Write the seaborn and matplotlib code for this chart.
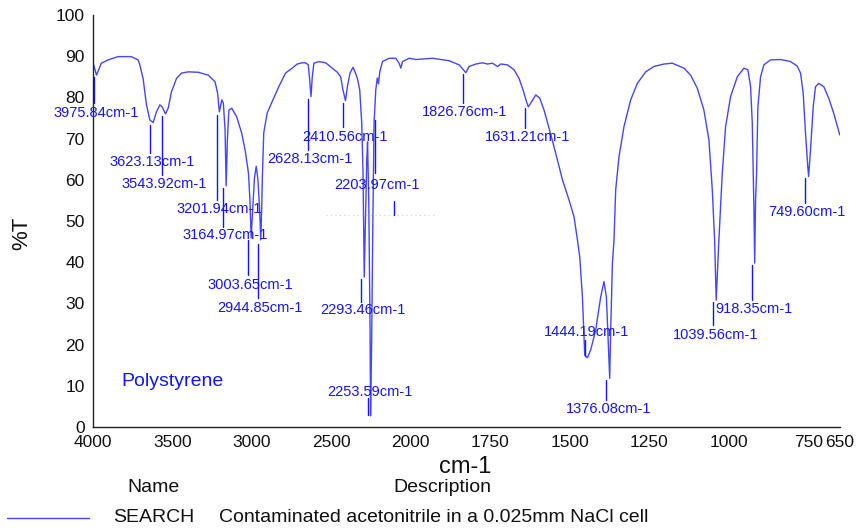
import numpy as np
import pandas as pd
import seaborn as sns
import matplotlib
matplotlib.use("Agg")
import matplotlib.pyplot as plt
from matplotlib.transforms import offset_copy
from matplotlib.lines import Line2D

# IR spectrum: wavenumber (cm-1) and percent transmittance
wavenumber = [
    4000.0, 3977.9, 3947.6, 3905.4, 3842.3, 3760.3, 3716.1, 3705.4, 3684.5, 3663.7,
    3642.3, 3621.5, 3600.6, 3579.2, 3564.7, 3543.9, 3526.8, 3506.0, 3474.5, 3442.9,
    3400.6, 3337.6, 3274.5, 3232.2, 3215.8, 3205.1, 3189.3, 3179.8, 3169.1, 3162.2,
    3154.6, 3145.1, 3127.5, 3095.9, 3064.4, 3042.9, 3022.1, 3012.6, 3005.0, 2995.6,
    2984.3, 2972.9, 2962.2, 2951.4, 2944.5, 2938.8, 2935.0, 2925.6, 2904.1, 2872.6,
    2830.9, 2788.7, 2746.4, 2714.9, 2683.4, 2662.5, 2645.5, 2637.3, 2628.5, 2620.3,
    2610.2, 2578.6, 2536.4, 2494.1, 2462.6, 2441.7, 2427.2, 2411.4, 2399.4, 2383.0,
    2364.1, 2351.5, 2336.4, 2321.8, 2309.2, 2301.0, 2293.4, 2285.8, 2277.6, 2272.6,
    2265.0, 2256.8, 2253.7, 2247.4, 2239.8, 2231.6, 2220.9, 2211.4, 2203.9, 2195.6,
    2178.6, 2137.0, 2094.8, 2074.0, 2063.3, 2052.5, 2010.9,
    1984.3, 1931.8, 1879.6, 1848.2, 1827.1, 1816.8, 1795.7, 1774.6, 1758.9, 1743.2,
    1727.5, 1717.1, 1696.1, 1675.3, 1659.6, 1647.0, 1636.3, 1630.7, 1619.7, 1607.1,
    1594.5, 1581.0, 1565.3, 1544.2, 1523.2, 1502.4, 1486.7, 1476.0, 1468.8, 1460.3,
    1453.1, 1444.6, 1434.3, 1418.6, 1402.8, 1392.5, 1384.9, 1378.6, 1374.5, 1371.4,
    1366.0, 1361.0, 1355.7, 1345.3, 1329.6, 1308.5, 1287.5, 1261.4, 1235.3, 1203.9,
    1177.5, 1156.7, 1141.0, 1119.9, 1098.9, 1078.1, 1062.4, 1051.7, 1044.5, 1039.5,
    1035.1, 1031.0, 1020.3, 1009.9, 994.2, 973.1, 952.4, 939.8, 931.3, 926.0,
    920.9, 918.4, 915.6, 912.4, 908.3, 899.9, 889.5, 868.5, 837.0, 805.7,
    784.6, 774.2, 765.7, 758.5, 751.3, 748.8, 742.8, 734.3, 727.1, 716.7,
    701.0, 685.3, 669.6, 650.7,
]
transmittance = [
    88.5, 85.4, 88.3, 89.1, 89.9, 89.9, 89.1, 87.9, 84.5, 78.2,
    74.5, 73.9, 76.5, 78.2, 77.7, 76.0, 77.4, 81.4, 84.6, 85.9,
    86.2, 86.1, 85.4, 83.8, 81.0, 76.5, 79.4, 78.6, 72.1, 58.5,
    69.7, 76.9, 77.4, 75.3, 71.3, 67.2, 61.7, 55.1, 45.9, 52.7,
    60.4, 63.3, 60.0, 52.7, 45.4, 52.7, 60.0, 71.4, 76.2, 79.0,
    82.6, 85.9, 87.1, 88.1, 88.4, 88.4, 87.9, 84.5, 80.2, 85.0,
    88.3, 88.7, 88.4, 87.1, 86.1, 85.0, 81.8, 79.2, 82.6, 85.9,
    87.3, 86.2, 84.6, 81.8, 73.8, 61.7, 36.4, 50.2, 64.8, 69.2,
    55.1, 23.5, 2.7, 18.7, 47.8, 73.8, 81.8, 84.7, 83.3, 86.2,
    88.7, 89.5, 89.5, 88.3, 87.1, 88.7, 89.5,
    89.2, 89.5, 88.9, 87.9, 86.0, 87.5, 88.1, 88.4, 88.1, 88.3,
    87.5, 88.1, 87.9, 86.7, 84.6, 81.8, 79.0, 77.7, 79.0, 80.6,
    79.8, 76.9, 72.5, 66.4, 60.0, 55.1, 51.0, 45.4, 41.3, 31.6,
    17.5, 16.8, 18.7, 23.5, 31.6, 35.3, 31.6, 19.5, 11.8, 23.5,
    39.7, 45.4, 57.5, 65.6, 72.9, 79.4, 83.4, 86.2, 87.5, 88.1,
    88.3, 87.6, 87.1, 85.4, 82.2, 76.9, 69.7, 57.5, 45.4, 30.8,
    38.1, 45.4, 61.7, 72.9, 80.2, 85.0, 87.1, 86.7, 82.6, 73.8,
    53.5, 39.8, 55.1, 61.7, 77.7, 85.0, 87.9, 89.1, 89.2, 88.7,
    87.6, 85.9, 81.0, 71.3, 63.2, 60.8, 67.2, 77.7, 82.6, 83.4,
    82.6, 79.8, 76.1, 70.9,
]

# Picked peaks (cm-1)
peaks = [3975.84, 3623.13, 3543.92, 3201.94, 3164.97, 3003.65, 2944.85,
         2628.13, 2410.56, 2293.46, 2253.59, 2203.97, 1826.76, 1631.21,
         1444.19, 1376.08, 1039.56, 918.35, 749.60]

# Placement of each peak annotation (in %T): label centre, marker top, marker bottom
label_y = [76.2, 64.3, 59.0, 52.9, 46.6, 34.5, 28.9, 65.0, 70.5, 28.4,
           8.6, 58.7, 76.5, 70.3, 23.1, 4.4, 22.3, 28.6, 52.3]
mark_top = [85.0, 73.3, 75.5, 75.7, 58.0, 45.4, 44.4, 79.5, 78.7, 35.9,
            7.0, 74.5, 85.8, 77.4, 21.1, 11.4, 30.4, 39.3, 60.4]
mark_bot = [78.6, 66.5, 61.2, 55.1, 48.5, 36.9, 31.3, 67.2, 72.7, 30.3,
            2.9, 61.7, 78.6, 72.5, 17.2, 6.6, 24.8, 30.8, 54.3]

x_ticks = [4000, 3500, 3000, 2500, 2000, 1750, 1500, 1250, 1000, 750, 650]
y_ticks = list(range(0, 101, 10))

sample_name = "Polystyrene"
legend_name = "SEARCH"
legend_desc = "Contaminated acetonitrile in a 0.025mm NaCl cell"

LINE = "#4545ff"
TEXT_BLUE = "#1414ff"

sns.set_theme(style="white")
plt.rcParams["font.family"] = ["Liberation Sans", "DejaVu Sans"]

W, H = 858, 528
fig = plt.figure(figsize=(W / 100, H / 100), dpi=100)
ax = fig.add_axes([93 / W, 1 - 427 / H, (840 - 93) / W, (427 - 15) / H])


# Wavenumber axis: the region above 2000 cm-1 is drawn at half scale
def fwd(x):
    x = np.asarray(x, dtype=float)
    return np.where(x > 2000, 2000 + (x - 2000) / 2.0, x)


def inv(u):
    u = np.asarray(u, dtype=float)
    return np.where(u > 2000, 2000 + (u - 2000) * 2.0, u)


ax.set_xscale("function", functions=(fwd, inv))

df = pd.DataFrame({"wn": wavenumber, "T": transmittance})
sns.lineplot(data=df, x="wn", y="T", ax=ax, color=LINE, lw=1.0,
             estimator=None, sort=False)

ax.set_xlim(4000, 650)
ax.set_ylim(0, 100)
ax.set_xticks(x_ticks)
ax.set_xticklabels([str(t) for t in x_ticks])
ax.set_yticks(y_ticks)
ax.set_yticklabels([str(t) for t in y_ticks])
ax.minorticks_off()

for s in ("top", "right"):
    ax.spines[s].set_visible(False)
for s in ("left", "bottom"):
    ax.spines[s].set_color("#222222")
    ax.spines[s].set_linewidth(1.0)
ax.tick_params(axis="both", which="major", direction="out", colors="#222222",
               labelcolor="#111111", labelsize=12.5, width=1.0)
ax.tick_params(axis="y", length=5, pad=1)
ax.tick_params(axis="x", length=4, pad=1.5)

ax.set_xlabel("")
ax.set_ylabel("")

# Peak markers and labels
mark_tr = offset_copy(ax.transData, fig=fig, x=-3, y=0, units="dots")
lab_tr = offset_copy(ax.transData, fig=fig, x=-1, y=0, units="dots")
for p, ly, mt, mb in zip(peaks, label_y, mark_top, mark_bot):
    ax.plot([p, p], [mt, mb], color=TEXT_BLUE, lw=1.0, transform=mark_tr,
            clip_on=False)
    ax.text(p, ly, f"{p:.2f}cm-1", transform=lab_tr, ha="center", va="center",
            color=TEXT_BLUE, fontsize=10.5)

# faint dotted guide near the 2200 cm-1 label
ax.plot([2536, 1921], [51.5, 51.5], color="#c8c8ff", lw=0.8, ls=(0, (1, 3)))
ax.plot([2090, 2090], [54.9, 51.5], color=TEXT_BLUE, lw=1.0, transform=mark_tr)

ax.text(3821, 11.0, sample_name, ha="left", va="center", color=TEXT_BLUE,
        fontsize=14)

# Axis titles
fig.text(465 / W, 1 - 466.7 / H, "cm-1", ha="center", va="center",
         fontsize=17, color="#111111")
fig.text(21.5 / W, 1 - 233 / H, "%T", ha="center", va="center",
         fontsize=16, rotation=90, color="#111111")

# Legend block
fig.text(153.3 / W, 1 - 488 / H, "Name", ha="center", va="center",
         fontsize=14, color="#111111")
fig.text(442 / W, 1 - 488 / H, "Description", ha="center", va="center",
         fontsize=14, color="#111111")
fig.add_artist(Line2D([7.3 / W, 89.3 / W], [1 - 518.3 / H, 1 - 518.3 / H],
                      color=LINE, lw=1.0, transform=fig.transFigure))
fig.text(112.7 / W, 1 - 518 / H, legend_name, ha="left", va="center",
         fontsize=14, color="#111111")
fig.text(219 / W, 1 - 518 / H, legend_desc, ha="left", va="center",
         fontsize=14, color="#111111")

fig.savefig("out.png", dpi=100)
